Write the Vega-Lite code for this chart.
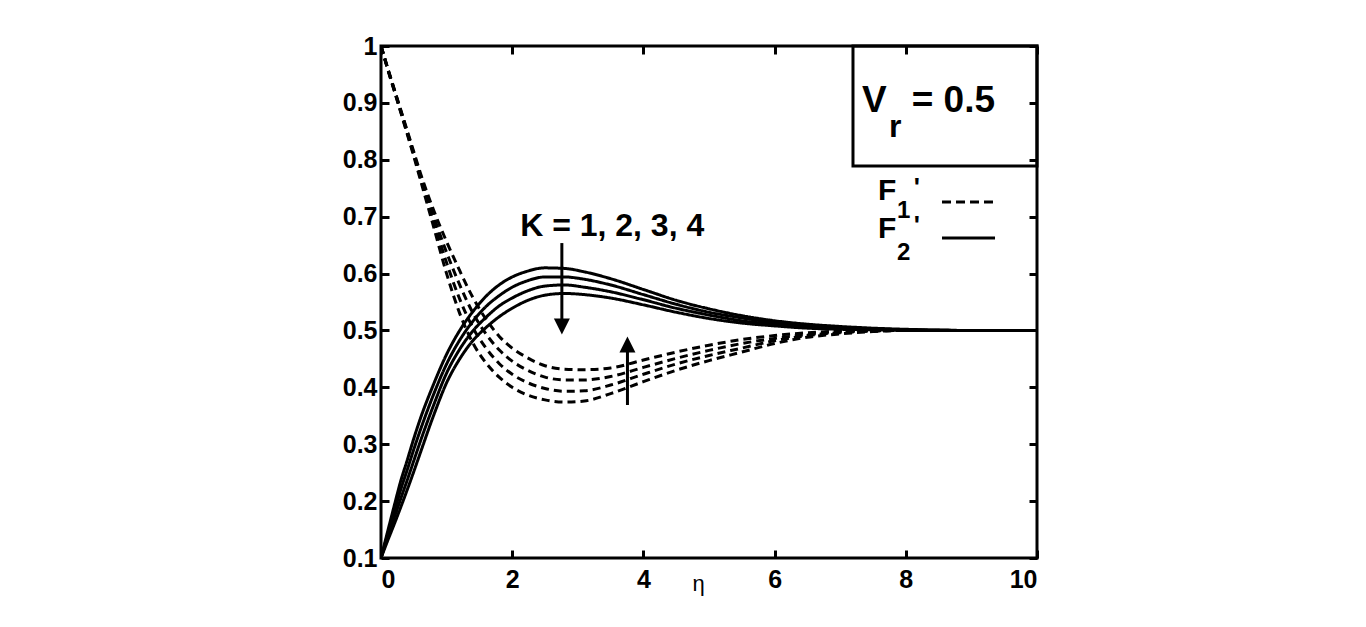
{
"$schema": "https://vega.github.io/schema/vega-lite/v6.json",
"width": 656,
"height": 512,
"autosize": {"type": "none"},
"padding": {"left": 381, "top": 46, "right": 329, "bottom": 69},
"background": "white",
"config": {
  "view": {"stroke": "black", "strokeWidth": 3},
  "font": "Liberation Sans"
},
"resolve": {"axis": {"x": "independent", "y": "independent"}},
"layer": [
  {
    "data": {"values": [
      {"eta":0,"F1_K1":1.000,"F1_K2":1.000,"F1_K3":1.000,"F1_K4":1.000,"F2_K1":0.100,"F2_K2":0.100,"F2_K3":0.100,"F2_K4":0.100},
      {"eta":0.1,"F1_K1":0.960,"F1_K2":0.961,"F1_K3":0.961,"F1_K4":0.962,"F2_K1":0.146,"F2_K2":0.141,"F2_K3":0.135,"F2_K4":0.130},
      {"eta":0.2,"F1_K1":0.922,"F1_K2":0.923,"F1_K3":0.924,"F1_K4":0.925,"F2_K1":0.191,"F2_K2":0.180,"F2_K3":0.170,"F2_K4":0.159},
      {"eta":0.3,"F1_K1":0.884,"F1_K2":0.885,"F1_K3":0.887,"F1_K4":0.888,"F2_K1":0.235,"F2_K2":0.220,"F2_K3":0.204,"F2_K4":0.189},
      {"eta":0.4,"F1_K1":0.845,"F1_K2":0.847,"F1_K3":0.849,"F1_K4":0.851,"F2_K1":0.272,"F2_K2":0.255,"F2_K3":0.237,"F2_K4":0.220},
      {"eta":0.5,"F1_K1":0.806,"F1_K2":0.809,"F1_K3":0.811,"F1_K4":0.814,"F2_K1":0.310,"F2_K2":0.291,"F2_K3":0.271,"F2_K4":0.252},
      {"eta":0.6,"F1_K1":0.765,"F1_K2":0.769,"F1_K3":0.773,"F1_K4":0.777,"F2_K1":0.345,"F2_K2":0.325,"F2_K3":0.305,"F2_K4":0.285},
      {"eta":0.8,"F1_K1":0.683,"F1_K2":0.693,"F1_K3":0.702,"F1_K4":0.712,"F2_K1":0.405,"F2_K2":0.387,"F2_K3":0.368,"F2_K4":0.350},
      {"eta":1.0,"F1_K1":0.600,"F1_K2":0.619,"F1_K3":0.637,"F1_K4":0.656,"F2_K1":0.458,"F2_K2":0.441,"F2_K3":0.425,"F2_K4":0.408},
      {"eta":1.2,"F1_K1":0.530,"F1_K2":0.555,"F1_K3":0.580,"F1_K4":0.605,"F2_K1":0.500,"F2_K2":0.483,"F2_K3":0.467,"F2_K4":0.450},
      {"eta":1.4,"F1_K1":0.478,"F1_K2":0.505,"F1_K3":0.531,"F1_K4":0.558,"F2_K1":0.533,"F2_K2":0.516,"F2_K3":0.499,"F2_K4":0.482},
      {"eta":1.6,"F1_K1":0.443,"F1_K2":0.469,"F1_K3":0.494,"F1_K4":0.520,"F2_K1":0.560,"F2_K2":0.542,"F2_K3":0.523,"F2_K4":0.505},
      {"eta":1.8,"F1_K1":0.418,"F1_K2":0.442,"F1_K3":0.466,"F1_K4":0.490,"F2_K1":0.580,"F2_K2":0.561,"F2_K3":0.543,"F2_K4":0.524},
      {"eta":2.0,"F1_K1":0.400,"F1_K2":0.423,"F1_K3":0.446,"F1_K4":0.469,"F2_K1":0.594,"F2_K2":0.576,"F2_K3":0.557,"F2_K4":0.539},
      {"eta":2.2,"F1_K1":0.388,"F1_K2":0.410,"F1_K3":0.432,"F1_K4":0.454,"F2_K1":0.603,"F2_K2":0.586,"F2_K3":0.568,"F2_K4":0.551},
      {"eta":2.5,"F1_K1":0.378,"F1_K2":0.398,"F1_K3":0.418,"F1_K4":0.438,"F2_K1":0.610,"F2_K2":0.594,"F2_K3":0.578,"F2_K4":0.562},
      {"eta":2.8,"F1_K1":0.374,"F1_K2":0.393,"F1_K3":0.413,"F1_K4":0.432,"F2_K1":0.609,"F2_K2":0.594,"F2_K3":0.580,"F2_K4":0.565},
      {"eta":3.1,"F1_K1":0.376,"F1_K2":0.394,"F1_K3":0.413,"F1_K4":0.431,"F2_K1":0.603,"F2_K2":0.590,"F2_K3":0.576,"F2_K4":0.563},
      {"eta":3.5,"F1_K1":0.389,"F1_K2":0.404,"F1_K3":0.419,"F1_K4":0.434,"F2_K1":0.591,"F2_K2":0.580,"F2_K3":0.568,"F2_K4":0.557},
      {"eta":4.0,"F1_K1":0.410,"F1_K2":0.423,"F1_K3":0.435,"F1_K4":0.448,"F2_K1":0.572,"F2_K2":0.563,"F2_K3":0.554,"F2_K4":0.545},
      {"eta":4.5,"F1_K1":0.430,"F1_K2":0.441,"F1_K3":0.451,"F1_K4":0.462,"F2_K1":0.553,"F2_K2":0.546,"F2_K3":0.539,"F2_K4":0.532},
      {"eta":5.0,"F1_K1":0.447,"F1_K2":0.456,"F1_K3":0.465,"F1_K4":0.474,"F2_K1":0.538,"F2_K2":0.532,"F2_K3":0.527,"F2_K4":0.521},
      {"eta":5.5,"F1_K1":0.462,"F1_K2":0.469,"F1_K3":0.477,"F1_K4":0.484,"F2_K1":0.526,"F2_K2":0.522,"F2_K3":0.517,"F2_K4":0.513},
      {"eta":6.0,"F1_K1":0.477,"F1_K2":0.482,"F1_K3":0.486,"F1_K4":0.491,"F2_K1":0.517,"F2_K2":0.514,"F2_K3":0.511,"F2_K4":0.508},
      {"eta":6.5,"F1_K1":0.488,"F1_K2":0.491,"F1_K3":0.493,"F1_K4":0.496,"F2_K1":0.511,"F2_K2":0.509,"F2_K3":0.506,"F2_K4":0.504},
      {"eta":7.0,"F1_K1":0.494,"F1_K2":0.496,"F1_K3":0.497,"F1_K4":0.499,"F2_K1":0.507,"F2_K2":0.505,"F2_K3":0.504,"F2_K4":0.502},
      {"eta":7.5,"F1_K1":0.498,"F1_K2":0.499,"F1_K3":0.499,"F1_K4":0.500,"F2_K1":0.504,"F2_K2":0.503,"F2_K3":0.502,"F2_K4":0.501},
      {"eta":8.0,"F1_K1":0.500,"F1_K2":0.500,"F1_K3":0.500,"F1_K4":0.500,"F2_K1":0.502,"F2_K2":0.501,"F2_K3":0.501,"F2_K4":0.500},
      {"eta":9.0,"F1_K1":0.500,"F1_K2":0.500,"F1_K3":0.500,"F1_K4":0.500,"F2_K1":0.500,"F2_K2":0.500,"F2_K3":0.500,"F2_K4":0.500},
      {"eta":10.0,"F1_K1":0.500,"F1_K2":0.500,"F1_K3":0.500,"F1_K4":0.500,"F2_K1":0.500,"F2_K2":0.500,"F2_K3":0.500,"F2_K4":0.500}
    ]},
    "transform": [{"fold": ["F1_K1","F1_K2","F1_K3","F1_K4","F2_K1","F2_K2","F2_K3","F2_K4"], "as": ["curve","value"]}],
    "mark": {"type": "line", "color": "black", "strokeWidth": 3, "interpolate": "monotone", "clip": true},
    "encoding": {
      "x": {"field": "eta", "type": "quantitative",
            "scale": {"domain": [0, 10], "nice": false, "zero": false},
            "axis": {"orient": "bottom", "values": [0,2,4,6,8,10], "offset": -8, "domain": false, "grid": false,
                     "ticks": true, "tickSize": 8, "tickWidth": 3, "tickColor": "black",
                     "labelPadding": 9, "labelColor": "black", "labelFont": "Liberation Sans", "labelFontWeight": "bold", "labelFontSize": 25,
                     "title": "η", "titleFont": "Liberation Sans", "titleFontWeight": "normal", "titleFontSize": 22,
                     "titleColor": "black", "titleX": 317, "titleY": 40, "titleBaseline": "alphabetic", "titleAlign": "center", "titleAnchor": "start"}},
      "y": {"field": "value", "type": "quantitative",
            "scale": {"domain": [0.1, 1], "nice": false, "zero": false},
            "axis": {"orient": "left", "values": [0.1,0.2,0.3,0.4,0.5,0.6,0.7,0.8,0.9,1], "format": "~g", "offset": -8, "domain": false, "grid": false,
                     "ticks": true, "tickSize": 8, "tickWidth": 3, "tickColor": "black",
                     "labelPadding": 4, "labelColor": "black", "labelFont": "Liberation Sans", "labelFontWeight": "bold", "labelFontSize": 25,
                     "title": null}},
      "detail": {"field": "curve", "type": "nominal"},
      "strokeDash": {"field": "curve", "type": "nominal", "legend": null,
                     "scale": {"domain": ["F1_K1","F1_K2","F1_K3","F1_K4","F2_K1","F2_K2","F2_K3","F2_K4"],
                               "range": [[8,5],[8,5],[8,5],[8,5],[1,0],[1,0],[1,0],[1,0]]}}
    }
  },
  {
    "data": {"values": [{}]},
    "mark": {"type": "rect", "fill": "transparent", "stroke": "black", "strokeWidth": 3},
    "encoding": {
      "x": {"datum": 7.195, "type": "quantitative",
            "axis": {"orient": "top", "labels": false, "values": [0,2,4,6,8,10], "title": null, "offset": -8, "domain": false, "grid": false,
                     "ticks": true, "tickSize": 8, "tickWidth": 3, "tickColor": "black"}},
      "x2": {"datum": 10},
      "y": {"datum": 1.0, "type": "quantitative",
            "axis": {"orient": "right", "labels": false, "values": [0.1,0.2,0.3,0.4,0.5,0.6,0.7,0.8,0.9,1], "title": null, "offset": -8, "domain": false, "grid": false,
                     "ticks": true, "tickSize": 8, "tickWidth": 3, "tickColor": "black"}},
      "y2": {"datum": 0.789}
    }
  },
  {
    "data": {"values": [{}]},
    "mark": {"type": "rule", "color": "black", "strokeWidth": 3},
    "encoding": {
      "x": {"datum": 2.757, "type": "quantitative", "axis": null},
      "y": {"datum": 0.6536, "type": "quantitative", "axis": null},
      "y2": {"datum": 0.515}
    }
  },
  {
    "data": {"values": [{}]},
    "mark": {"type": "point", "shape": "M-1,-1L1,-1L0,1Z", "filled": true, "color": "black", "opacity": 1, "size": 256},
    "encoding": {
      "x": {"datum": 2.757, "type": "quantitative", "axis": null},
      "y": {"datum": 0.5069, "type": "quantitative", "axis": null}
    }
  },
  {
    "data": {"values": [{}]},
    "mark": {"type": "rule", "color": "black", "strokeWidth": 3},
    "encoding": {
      "x": {"datum": 3.757, "type": "quantitative", "axis": null},
      "y": {"datum": 0.3689, "type": "quantitative", "axis": null},
      "y2": {"datum": 0.468}
    }
  },
  {
    "data": {"values": [{}]},
    "mark": {"type": "point", "shape": "M-1,1L1,1L0,-1Z", "filled": true, "color": "black", "opacity": 1, "size": 256},
    "encoding": {
      "x": {"datum": 3.757, "type": "quantitative", "axis": null},
      "y": {"datum": 0.4752, "type": "quantitative", "axis": null}
    }
  },
  {
    "data": {"values": [{}]},
    "mark": {"type": "text", "font": "Liberation Sans", "fontWeight": "bold", "fontSize": 32, "align": "center", "baseline": "alphabetic", "color": "black"},
    "encoding": {
      "x": {"datum": 3.524, "type": "quantitative", "axis": null},
      "y": {"datum": 0.666, "type": "quantitative", "axis": null},
      "text": {"value": "K = 1, 2, 3, 4"}
    }
  },
  {
    "data": {"values": [{}]},
    "mark": {"type": "text", "font": "Liberation Sans", "fontWeight": "bold", "fontSize": 37, "align": "left", "baseline": "alphabetic", "color": "black"},
    "encoding": {
      "x": {"datum": 7.332, "type": "quantitative", "axis": null},
      "y": {"datum": 0.884, "type": "quantitative", "axis": null},
      "text": {"value": "V"}
    }
  },
  {
    "data": {"values": [{}]},
    "mark": {"type": "text", "font": "Liberation Sans", "fontWeight": "bold", "fontSize": 32, "align": "left", "baseline": "alphabetic", "color": "black"},
    "encoding": {
      "x": {"datum": 7.744, "type": "quantitative", "axis": null},
      "y": {"datum": 0.840, "type": "quantitative", "axis": null},
      "text": {"value": "r"}
    }
  },
  {
    "data": {"values": [{}]},
    "mark": {"type": "text", "font": "Liberation Sans", "fontWeight": "bold", "fontSize": 37, "align": "left", "baseline": "alphabetic", "color": "black"},
    "encoding": {
      "x": {"datum": 8.09, "type": "quantitative", "axis": null},
      "y": {"datum": 0.884, "type": "quantitative", "axis": null},
      "text": {"value": "= 0.5"}
    }
  },
  {
    "data": {"values": [{}]},
    "mark": {"type": "text", "font": "Liberation Sans", "fontWeight": "bold", "fontSize": 30, "align": "left", "baseline": "alphabetic", "color": "black"},
    "encoding": {
      "x": {"datum": 7.576, "type": "quantitative", "axis": null},
      "y": {"datum": 0.729, "type": "quantitative", "axis": null},
      "text": {"value": "F"}
    }
  },
  {
    "data": {"values": [{}]},
    "mark": {"type": "text", "font": "Liberation Sans", "fontWeight": "bold", "fontSize": 24, "align": "left", "baseline": "alphabetic", "color": "black"},
    "encoding": {
      "x": {"datum": 7.866, "type": "quantitative", "axis": null},
      "y": {"datum": 0.6975, "type": "quantitative", "axis": null},
      "text": {"value": "1"}
    }
  },
  {
    "data": {"values": [{}]},
    "mark": {"type": "text", "font": "Liberation Sans", "fontWeight": "bold", "fontSize": 26, "align": "left", "baseline": "alphabetic", "color": "black"},
    "encoding": {
      "x": {"datum": 8.12, "type": "quantitative", "axis": null},
      "y": {"datum": 0.737, "type": "quantitative", "axis": null},
      "text": {"value": "'"}
    }
  },
  {
    "data": {"values": [{}]},
    "mark": {"type": "text", "font": "Liberation Sans", "fontWeight": "bold", "fontSize": 30, "align": "left", "baseline": "alphabetic", "color": "black"},
    "encoding": {
      "x": {"datum": 7.576, "type": "quantitative", "axis": null},
      "y": {"datum": 0.6624, "type": "quantitative", "axis": null},
      "text": {"value": "F"}
    }
  },
  {
    "data": {"values": [{}]},
    "mark": {"type": "text", "font": "Liberation Sans", "fontWeight": "bold", "fontSize": 24, "align": "left", "baseline": "alphabetic", "color": "black"},
    "encoding": {
      "x": {"datum": 7.866, "type": "quantitative", "axis": null},
      "y": {"datum": 0.6237, "type": "quantitative", "axis": null},
      "text": {"value": "2"}
    }
  },
  {
    "data": {"values": [{}]},
    "mark": {"type": "text", "font": "Liberation Sans", "fontWeight": "bold", "fontSize": 26, "align": "left", "baseline": "alphabetic", "color": "black"},
    "encoding": {
      "x": {"datum": 8.12, "type": "quantitative", "axis": null},
      "y": {"datum": 0.670, "type": "quantitative", "axis": null},
      "text": {"value": "'"}
    }
  },
  {
    "data": {"values": [{}]},
    "mark": {"type": "rule", "color": "black", "strokeWidth": 3, "strokeDash": [9, 5]},
    "encoding": {
      "x": {"datum": 8.552, "type": "quantitative", "axis": null},
      "x2": {"datum": 9.329},
      "y": {"datum": 0.7257, "type": "quantitative", "axis": null}
    }
  },
  {
    "data": {"values": [{}]},
    "mark": {"type": "rule", "color": "black", "strokeWidth": 3},
    "encoding": {
      "x": {"datum": 8.552, "type": "quantitative", "axis": null},
      "x2": {"datum": 9.36},
      "y": {"datum": 0.6624, "type": "quantitative", "axis": null}
    }
  }
]
}
